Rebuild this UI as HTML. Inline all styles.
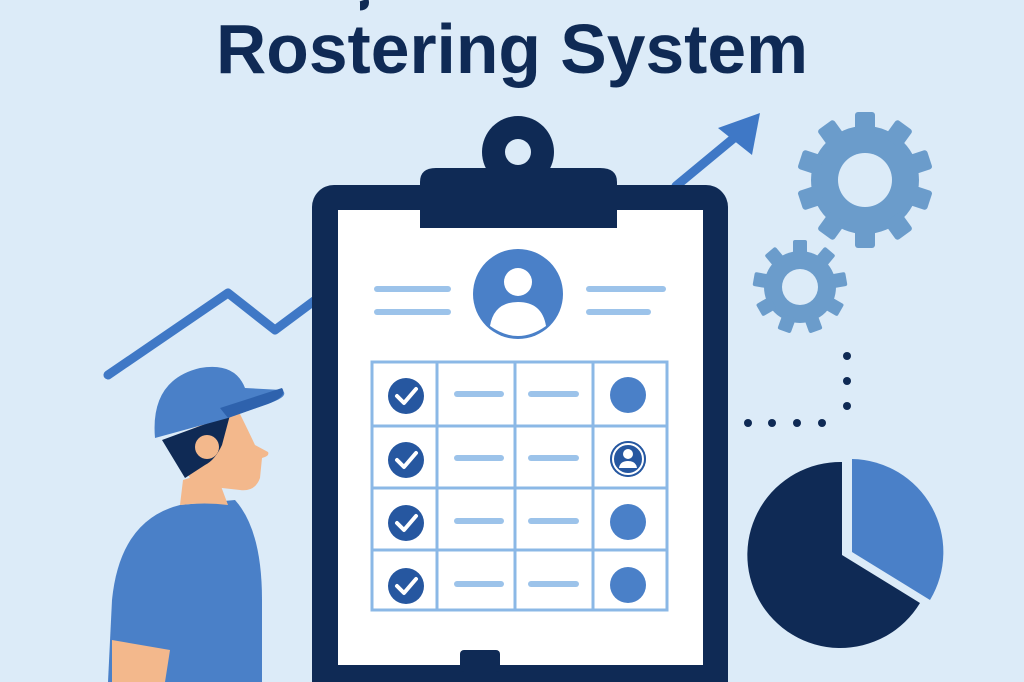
<!DOCTYPE html>
<html><head><meta charset="utf-8"><style>
html,body{margin:0;padding:0;background:#dcebf8;}
svg{display:block}
</style></head><body>
<svg width="1024" height="682" viewBox="0 0 1024 682" xmlns="http://www.w3.org/2000/svg">
<rect width="1024" height="682" fill="#dcebf8"/>
<text x="512" y="73" text-anchor="middle" font-family="Liberation Sans, sans-serif" font-weight="bold" font-size="70" textLength="592" lengthAdjust="spacingAndGlyphs" fill="#0f2a55">Rostering System</text>
<path d="M364 0 Q366 6 360 6" stroke="#0f2a55" stroke-width="9" fill="none"/>
<!-- trend line -->
<polyline points="108,375 228,293 275,330 318,298" fill="none" stroke="#3f78c6" stroke-width="9" stroke-linecap="round" stroke-linejoin="round"/>
<line x1="676" y1="186" x2="740" y2="133" stroke="#3f78c6" stroke-width="9" stroke-linecap="round"/>
<polygon points="760,113 752,155 718,128" fill="#3f78c6"/>
<!-- gears -->
<g fill="#6b9ccb">
<g transform="translate(865,180)">
<circle r="54"/>
<g id="t1"><rect x="-10" y="-68" width="20" height="22" rx="3"/></g>
<use href="#t1" transform="rotate(36)"/><use href="#t1" transform="rotate(72)"/><use href="#t1" transform="rotate(108)"/><use href="#t1" transform="rotate(144)"/><use href="#t1" transform="rotate(180)"/><use href="#t1" transform="rotate(216)"/><use href="#t1" transform="rotate(252)"/><use href="#t1" transform="rotate(288)"/><use href="#t1" transform="rotate(324)"/>
<circle r="27" fill="#dcebf8"/>
</g>
<g transform="translate(800,287)">
<circle r="36"/>
<g id="t2"><rect x="-7" y="-47" width="14" height="16" rx="2"/></g>
<use href="#t2" transform="rotate(40)"/><use href="#t2" transform="rotate(80)"/><use href="#t2" transform="rotate(120)"/><use href="#t2" transform="rotate(160)"/><use href="#t2" transform="rotate(200)"/><use href="#t2" transform="rotate(240)"/><use href="#t2" transform="rotate(280)"/><use href="#t2" transform="rotate(320)"/>
<circle r="18" fill="#dcebf8"/>
</g>
</g>
<!-- dots -->
<g fill="#0f2a55">
<circle cx="847" cy="356" r="4"/><circle cx="847" cy="381" r="4"/><circle cx="847" cy="406" r="4"/>
<circle cx="748" cy="423" r="4"/><circle cx="772" cy="423" r="4"/><circle cx="797" cy="423" r="4"/><circle cx="822" cy="423" r="4"/>
</g>
<!-- pie -->
<path d="M842 555 L842 462 A93 93 0 1 0 920 603 Z" fill="#0f2a55"/>
<path d="M852 552 L852 459 A93 93 0 0 1 930 600 Z" fill="#4a80c8"/>
<!-- person -->
<path d="M108 682 L112 600 Q120 520 180 505 L235 500 Q262 530 262 600 L262 682 Z" fill="#4a80c8"/>
<path d="M112 640 L170 650 L165 682 L112 682 Z" fill="#f3b88c"/>
<path d="M180 505 L183 480 L215 470 L228 505 Q205 502 180 505Z" fill="#f3b88c"/>
<path d="M165 440 L238 410 Q248 430 255 445 L268 452 Q270 456 262 458 L260 478 Q255 492 240 490 L222 488 L190 478 Z" fill="#f3b88c"/>
<path d="M162 440 L230 415 L222 445 Q215 460 205 465 L185 478 Z" fill="#0f2a55"/>
<circle cx="207" cy="447" r="12" fill="#f3b88c"/>
<path d="M155 438 Q150 380 200 368 Q235 362 245 388 L282 390 Q290 396 270 403 L228 418 Z" fill="#4a80c8"/>
<path d="M220 408 L282 388 Q288 396 268 404 L228 418Z" fill="#2e62ad"/>
<!-- clipboard -->
<rect x="312" y="185" width="416" height="530" rx="22" fill="#0f2a55"/>
<rect x="338" y="210" width="365" height="455" fill="#fff"/>
<rect x="460" y="650" width="40" height="22" rx="4" fill="#0f2a55"/>
<circle cx="518" cy="152" r="36" fill="#0f2a55"/>
<path d="M420 228 L420 182 Q420 168 436 168 L600 168 Q617 168 617 182 L617 228 Z" fill="#0f2a55"/>
<circle cx="518" cy="152" r="13" fill="#dcebf8"/>
<!-- header -->
<circle cx="518" cy="294" r="45" fill="#4a80c8"/>
<circle cx="518" cy="282" r="14" fill="#fff"/>
<path d="M490 326 Q494 302 518 302 Q542 302 546 326 Q532 336 518 336 Q504 336 490 326Z" fill="#fff"/>
<g stroke="#9cc3ea" stroke-width="6" stroke-linecap="round">
<line x1="377" y1="289" x2="448" y2="289"/><line x1="377" y1="312" x2="448" y2="312"/>
<line x1="589" y1="289" x2="663" y2="289"/><line x1="589" y1="312" x2="648" y2="312"/>
</g>
<!-- table -->
<g fill="none" stroke="#8bb8e6" stroke-width="3">
<rect x="372" y="362" width="295" height="248"/>
<line x1="437" y1="362" x2="437" y2="610"/><line x1="515" y1="362" x2="515" y2="610"/><line x1="593" y1="362" x2="593" y2="610"/>
<line x1="372" y1="426" x2="667" y2="426"/><line x1="372" y1="488" x2="667" y2="488"/><line x1="372" y1="550" x2="667" y2="550"/>
</g>
<g id="row">
<circle cx="406" cy="396" r="18" fill="#2657a0"/>
<polyline points="397,396 404,403 416,389" fill="none" stroke="#fff" stroke-width="4" stroke-linecap="round" stroke-linejoin="round"/>
<line x1="457" y1="394" x2="501" y2="394" stroke="#9cc3ea" stroke-width="6" stroke-linecap="round"/>
<line x1="531" y1="394" x2="576" y2="394" stroke="#9cc3ea" stroke-width="6" stroke-linecap="round"/>
<circle cx="628" cy="395" r="18" fill="#4a80c8"/>
</g>
<use href="#row" transform="translate(0,64)"/>
<use href="#row" transform="translate(0,127)"/>
<use href="#row" transform="translate(0,190)"/>
<circle cx="628" cy="459" r="18" fill="#2657a0"/>
<circle cx="628" cy="459" r="15" fill="none" stroke="#fff" stroke-width="2"/>
<circle cx="628" cy="454" r="5" fill="#fff"/>
<path d="M619 468 Q620 461 628 461 Q636 461 637 468Z" fill="#fff"/>
</svg>
</body></html>
